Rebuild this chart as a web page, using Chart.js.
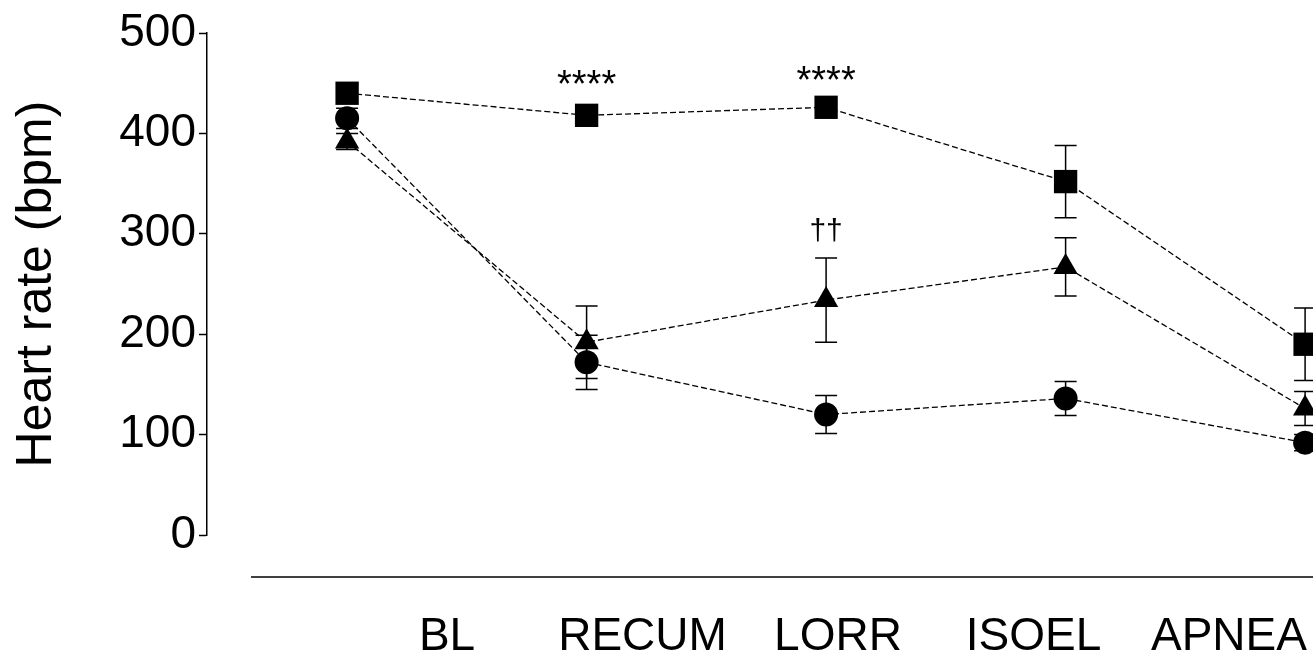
<!DOCTYPE html>
<html>
<head>
<meta charset="utf-8">
<script src="https://cdn.jsdelivr.net/npm/chart.js@4.4.0/dist/chart.umd.min.js"></script>
<style>
  html, body { margin: 0; padding: 0; background: #fff; }
  #wrap { width: 1313px; height: 655px; }
</style>
</head>
<body>
<div id="wrap"><canvas id="myChart" width="1313" height="655"></canvas></div>
<script>
// stages along the x axis
const stages = ['BL', 'RECUM', 'LORR', 'ISOEL', 'APNEA'];

// heart rate, mean and error (bpm)
const squareMean = [440, 418, 426, 352, 190];
const squareErr = [10, 8, 4, 36, 36];
const triangleMean = [392, 192, 234, 267, 126];
const triangleErr = [8, 36, 42, 29, 17];
const circleMean = [415, 172, 120, 136, 92];
const circleErr = [10, 27, 19, 17, 8];

// significance marks
const squareSig = ['', '****', '****', '', ''];
const triangleSig = ['', '', '††', '', ''];

const yTicks = [0, 100, 200, 300, 400, 500];

const FONT = "'Liberation Sans', Arial, sans-serif";

function toPoints(values) {
    return values.map((v, i) => ({ x: i, y: v }));
}

function makeSet(label, values, errs, sig, style, radius) {
    return {
        label: label,
        data: toPoints(values),
        err: errs,
        sig: sig,
        borderColor: '#000',
        backgroundColor: '#000',
        borderWidth: 1.3,
        borderDash: [6, 3],
        pointStyle: style,
        pointRadius: radius,
        pointHoverRadius: radius,
        pointBackgroundColor: '#000',
        pointBorderColor: '#000',
        pointBorderWidth: 0,
        tension: 0,
        clip: false
    };
}

const errorBars = {
    id: 'errorBars',
    beforeDatasetsDraw(chart) {
        const ctx = chart.ctx;
        const xs = chart.scales.x;
        const ys = chart.scales.y;
        ctx.save();
        ctx.strokeStyle = '#000';
        ctx.lineWidth = 1.5;
        chart.data.datasets.forEach(ds => {
            ds.data.forEach((p, i) => {
                const px = xs.getPixelForValue(p.x);
                const top = ys.getPixelForValue(p.y + ds.err[i]);
                const bot = ys.getPixelForValue(p.y - ds.err[i]);
                ctx.beginPath();
                ctx.moveTo(px, top);
                ctx.lineTo(px, bot);
                ctx.moveTo(px - 11, top);
                ctx.lineTo(px + 11, top);
                ctx.moveTo(px - 11, bot);
                ctx.lineTo(px + 11, bot);
                ctx.stroke();
            });
        });
        ctx.restore();
    },
    afterDatasetsDraw(chart) {
        const ctx = chart.ctx;
        const xs = chart.scales.x;
        const ys = chart.scales.y;
        const area = chart.chartArea;
        ctx.save();
        // horizontal axis line under the plot
        ctx.strokeStyle = '#000';
        ctx.lineWidth = 1.5;
        ctx.beginPath();
        ctx.moveTo(area.left + 44, area.bottom + 42);
        ctx.lineTo(chart.width, area.bottom + 42);
        ctx.stroke();
        // significance marks
        ctx.fillStyle = '#000';
        ctx.textAlign = 'center';
        ctx.textBaseline = 'alphabetic';
        chart.data.datasets.forEach(ds => {
            ds.sig.forEach((s, i) => {
                if (!s) return;
                const px = xs.getPixelForValue(i);
                const top = ys.getPixelForValue(ds.data[i].y + ds.err[i]);
                if (s.indexOf('*') >= 0) {
                    ctx.font = '38px ' + FONT;
                    ctx.fillText(s, px, top - 10);
                } else {
                    ctx.font = '30px ' + FONT;
                    ctx.fillText(s, px, top - 18);
                }
            });
        });
        ctx.restore();
    }
};

const ctx = document.getElementById('myChart').getContext('2d');
const chart = new Chart(ctx, {
    type: 'line',
    data: {
        datasets: [
            makeSet('square', squareMean, squareErr, squareSig, 'rect', 16.5),
            makeSet('triangle', triangleMean, triangleErr, triangleSig, 'triangle', 14),
            makeSet('circle', circleMean, circleErr, ['', '', '', '', ''], 'circle', 12)
        ]
    },
    options: {
        responsive: false,
        animation: false,
        events: [],
        layout: { autoPadding: false, padding: { top: 33, right: 0, bottom: 0, left: 0 } },
        plugins: {
            legend: { display: false },
            tooltip: { enabled: false }
        },
        scales: {
            x: {
                type: 'linear',
                display: false,
                min: -0.585,
                max: 4.033
            },
            xl: {
                type: 'linear',
                position: 'bottom',
                min: -1.228,
                max: 4.43,
                afterBuildTicks: axis => {
                    axis.ticks = stages.map((s, i) => ({ value: i }));
                },
                afterFit: axis => {
                    axis.height = 120;
                    axis.paddingLeft = 0;
                    axis.paddingRight = 0;
                },
                grid: { display: false, drawTicks: false },
                border: { display: false },
                ticks: {
                    color: '#000',
                    padding: 75,
                    maxRotation: 0,
                    autoSkip: false,
                    font: { family: FONT, size: 46 },
                    callback: v => stages[v]
                }
            },
            y: {
                min: 0,
                max: 500,
                afterBuildTicks: axis => {
                    axis.ticks = yTicks.map(v => ({ value: v }));
                },
                afterFit: axis => { axis.width = 207; },
                grid: {
                    drawOnChartArea: false,
                    drawTicks: true,
                    tickLength: 8,
                    tickWidth: 1.5,
                    tickColor: '#000'
                },
                border: { display: true, color: '#000', width: 1.5 },
                ticks: {
                    color: '#000',
                    padding: 3,
                    font: { family: FONT, size: 46 }
                },
                title: {
                    display: true,
                    text: 'Heart rate (bpm)',
                    color: '#000',
                    font: { family: FONT, size: 50 },
                    padding: { top: 7, bottom: 0 }
                }
            }
        }
    },
    plugins: [errorBars]
});
</script>
</body>
</html>
